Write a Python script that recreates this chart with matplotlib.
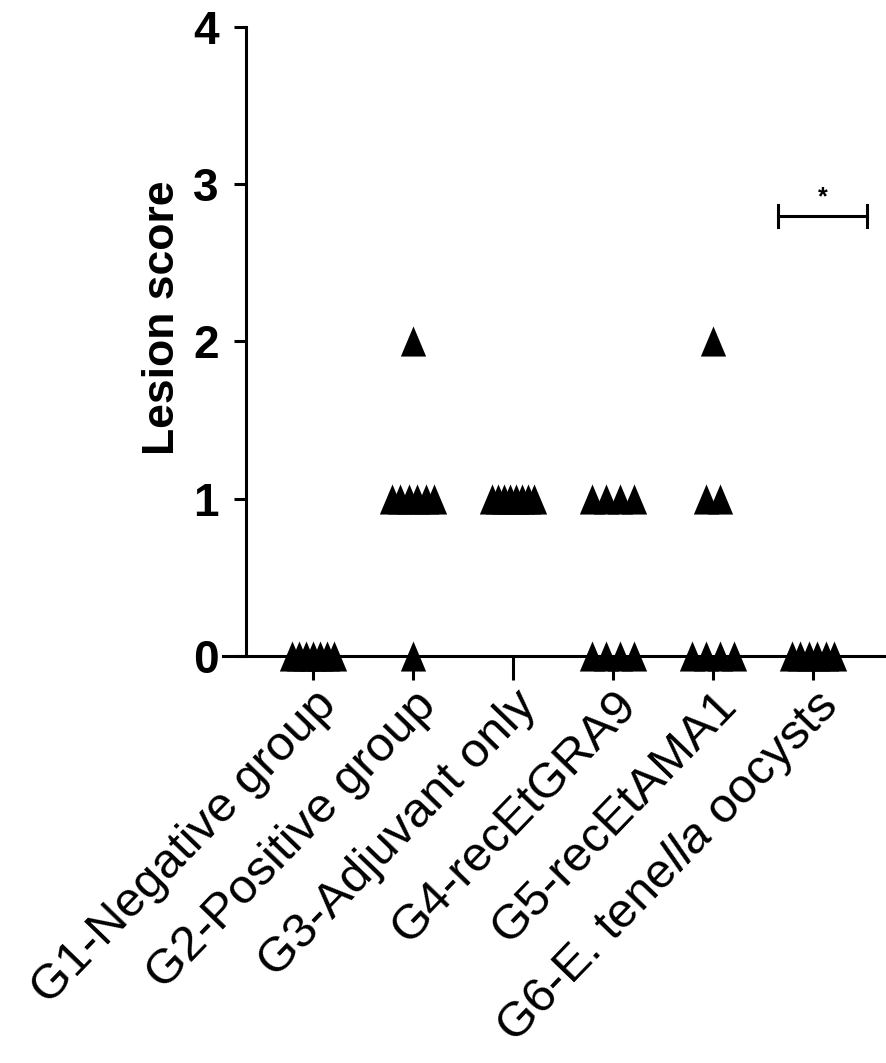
import numpy as np
import matplotlib
matplotlib.use("Agg")
import matplotlib.pyplot as plt

plt.rcParams["font.family"] = ["Liberation Sans", "DejaVu Sans"]
plt.rcParams["mathtext.fontset"] = "custom"
plt.rcParams["mathtext.rm"] = "Liberation Sans"
plt.rcParams["mathtext.it"] = "Liberation Sans:italic"

# Group names and lesion scores per bird
groups = [
    "G1-Negative group",
    "G2-Positive group",
    "G3-Adjuvant only",
    "G4-recEtGRA9",
    "G5-recEtAMA1",
    "G6-E. tene$\\mathit{lla}$ oocysts",
]
g1_scores = [0, 0, 0, 0, 0, 0, 0]
g2_scores = [2, 1, 1, 1, 1, 1, 1, 0]
g3_scores = [1, 1, 1, 1, 1, 1, 1, 1]
g4_scores = [1, 1, 1, 1, 0, 0, 0, 0]
g5_scores = [2, 1, 1, 0, 0, 0, 0]
g6_scores = [0, 0, 0, 0, 0, 0]
all_scores = [g1_scores, g2_scores, g3_scores, g4_scores, g5_scores, g6_scores]

# significance bracket
sig_x = [4.65, 5.54]
sig_y = 2.8
sig_label = "*"

fig = plt.figure(figsize=(8.86, 10.63), dpi=100)
ax = fig.add_axes([0.2517, 0.3829, 0.7483, 0.5917])

tri = [(0, 1), (-0.84, -1), (0.84, -1)]

for i, scores in enumerate(all_scores):
    scores = np.array(scores)
    for val in np.unique(scores):
        n = int((scores == val).sum())
        # spread points sideways like a column scatter
        step = min(0.145, 0.42 / (n - 1)) if n > 1 else 0
        offs = (np.arange(n) - (n - 1) / 2) * step
        ax.scatter(i + offs, [val] * n, marker=tri, s=470, color="black",
                   linewidths=0, clip_on=False, zorder=3)

# significance bar
ax.plot(sig_x, [sig_y, sig_y], color="black", lw=2.2, clip_on=False)
for xx in sig_x:
    ax.plot([xx, xx], [sig_y - 0.07, sig_y + 0.07], color="black", lw=2.2, clip_on=False)
ax.text(np.mean(sig_x), sig_y + 0.04, sig_label, ha="center", va="bottom", fontsize=18,
        fontweight="bold")

ax.set_xlim(-0.9, 5.73)
ax.set_ylim(0, 4)
ax.spines["left"].set_position(("data", -0.67))
ax.spines["top"].set_visible(False)
ax.spines["right"].set_visible(False)
for sp in ["left", "bottom"]:
    ax.spines[sp].set_linewidth(2.2)

ax.set_yticks([0, 1, 2, 3, 4])
ax.set_yticklabels(["0", "1", "2", "3", "4"], fontsize=33, fontweight="bold")
ax.tick_params(axis="y", length=8.6, width=2.2, pad=11)
ax.set_xticks(range(len(groups)))
ax.set_xticklabels(groups, fontsize=35.5, rotation=46, ha="right", va="top",
                   rotation_mode="anchor")
ax.tick_params(axis="x", length=17, width=2.2, pad=2)

ax.set_ylabel("Lesion score", fontsize=32, fontweight="bold")
ax.yaxis.set_label_coords(-0.06, 0.537)

fig.savefig("out.png", dpi=100)
